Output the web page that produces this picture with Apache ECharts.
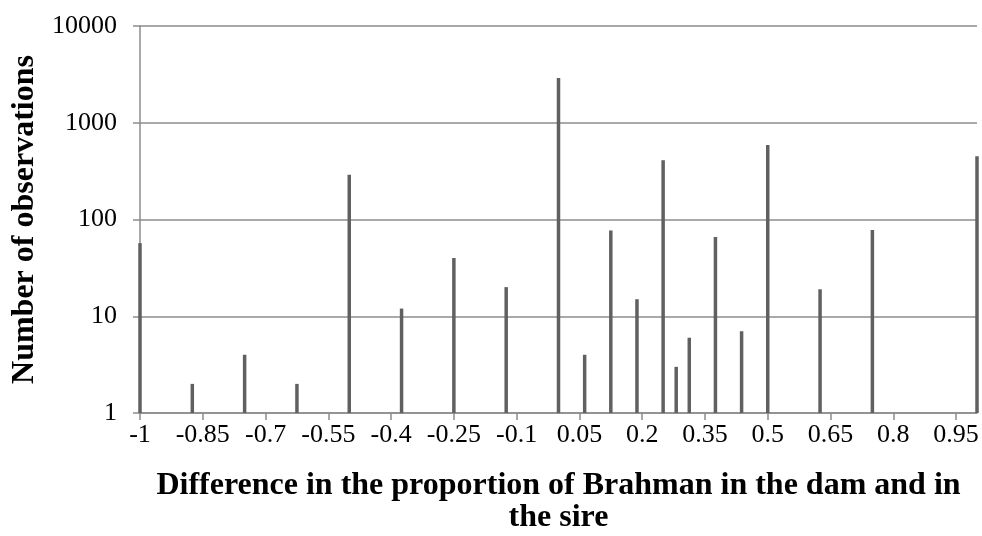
<!DOCTYPE html>
<html>
<head>
<meta charset="utf-8">
<script src="https://cdn.jsdelivr.net/npm/echarts@6/dist/echarts.min.js"></script>
<style>
  html, body { margin: 0; padding: 0; background: #fff; }
  #chart { width: 982px; height: 536px; }
</style>
</head>
<body>
<div id="chart"></div>
<script>
// difference in proportion of Brahman (dam - sire)
var diffs = [-1, -0.875, -0.75, -0.625, -0.5, -0.375, -0.25, -0.125, 0, 0.0625, 0.125, 0.1875,
             0.25, 0.28125, 0.3125, 0.375, 0.4375, 0.5, 0.625, 0.75, 1];
// number of observations
var counts = [57, 2, 4, 2, 290, 12, 40, 20, 2900, 4, 77, 15,
              410, 3, 6, 66, 7, 590, 19, 78, 450];
var xTicks = [-1, -0.85, -0.7, -0.55, -0.4, -0.25, -0.1, 0.05, 0.2, 0.35, 0.5, 0.65, 0.8, 0.95];

var serif = '"Liberation Serif", "Times New Roman", serif';
var gridGrey = '#8c8c8c';

var myChart = echarts.init(document.getElementById('chart'));
myChart.setOption({
    animation: false,
    grid: {
        left: 140,
        right: 5,
        top: 26,
        bottom: 123,
        outerBoundsMode: 'none'
    },
    xAxis: {
        type: 'value',
        min: -1,
        max: 1,
        name: 'Difference in the proportion of Brahman in the dam and in\nthe sire',
        nameLocation: 'middle',
        nameGap: 57,
        nameTextStyle: {
            fontFamily: serif,
            fontWeight: 'bold',
            fontSize: 32,
            lineHeight: 32,
            color: '#000'
        },
        splitLine: { show: false },
        axisLine: { lineStyle: { color: gridGrey, width: 1.5 } },
        axisTick: {
            customValues: xTicks,
            length: 7,
            lineStyle: { color: gridGrey, width: 1.5 }
        },
        axisLabel: {
            customValues: xTicks,
            margin: 9,
            fontFamily: serif,
            fontSize: 26,
            color: '#000',
            formatter: function (v) { return String(v); }
        }
    },
    yAxis: {
        type: 'log',
        logBase: 10,
        min: 1,
        max: 10000,
        name: 'Number of observations',
        nameLocation: 'middle',
        nameGap: 97,
        nameTextStyle: {
            fontFamily: serif,
            fontWeight: 'bold',
            fontSize: 32,
            color: '#000'
        },
        axisLine: { show: true, onZero: false, lineStyle: { color: gridGrey, width: 1.5 } },
        axisTick: {
            show: true,
            length: 7,
            lineStyle: { color: gridGrey, width: 1.5 }
        },
        splitLine: { lineStyle: { color: gridGrey, width: 1.5 } },
        axisLabel: {
            margin: 23,
            fontFamily: serif,
            fontSize: 26,
            color: '#000',
            formatter: function (v) { return String(Math.round(v)); }
        }
    },
    series: [
        {
            type: 'bar',
            barWidth: 3.5,
            itemStyle: { color: '#606060' },
            data: diffs.map(function (d, i) { return [d, counts[i]]; })
        }
    ]
});
</script>
</body>
</html>
